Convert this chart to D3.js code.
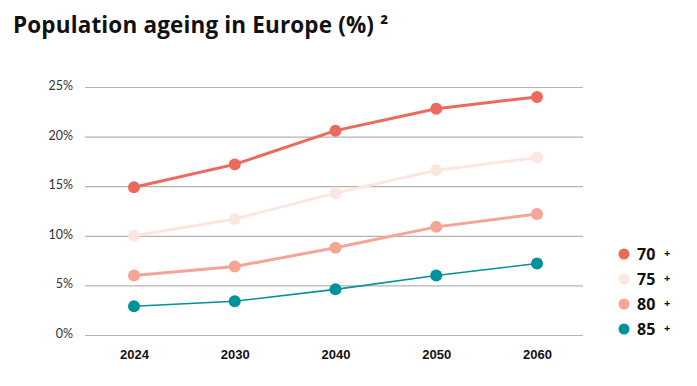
<!DOCTYPE html>
<html>
<head>
<meta charset="utf-8">
<script src="https://cdn.jsdelivr.net/npm/d3@7.9.0/dist/d3.min.js"></script>
<style>
  body { margin: 0; background: #fff; }
  svg { display: block; font-family: "Open Sans", sans-serif; }
</style>
</head>
<body>
<svg width="697" height="386"></svg>
<script>
// chart data
const years = ['2024', '2030', '2040', '2050', '2060'];
const groups = ['70 +', '75 +', '80 +', '85 +'];
const values70 = [14.9, 17.2, 20.6, 22.8, 24.0];
const values75 = [10.0, 11.7, 14.3, 16.6, 17.9];
const values80 = [6.0, 6.9, 8.8, 10.9, 12.2];
const values85 = [2.9, 3.4, 4.6, 6.0, 7.2];
const yTicks = [0, 5, 10, 15, 20, 25];

const colors = ['#ec6a5c', '#fbe6e0', '#f5a595', '#00929a'];
const widths = [3, 3, 3, 1.6];

const series = [values70, values75, values80, values85].map((vals, i) => ({
  name: groups[i],
  color: colors[i],
  width: widths[i],
  points: vals.map((v, j) => ({ year: years[j], value: v }))
}));

const svg = d3.select('svg');

// title
const title = svg.append('text')
  .attr('x', 13)
  .attr('y', 33)
  .attr('font-size', 22.5)
  .attr('font-weight', 700)
  .attr('fill', '#111')
  .attr('letter-spacing', 0.15)
  .text('Population ageing in Europe (%) ');
title.append('tspan')
  .attr('font-size', 21)
  .text('²');

const plotLeft = 85, plotRight = 583, plotTop = 87, plotBottom = 335;

const x = d3.scalePoint().domain(years).range([134, 537]);
const y = d3.scaleLinear().domain([0, 25]).range([plotBottom, plotTop]);

// grid lines + y labels
const yAxis = svg.append('g')
  .attr('transform', `translate(${plotLeft},0)`)
  .call(d3.axisLeft(y).tickValues(yTicks).tickSize(-(plotRight - plotLeft)).tickFormat(d => d + '%'));
yAxis.select('.domain').remove();
yAxis.selectAll('line').attr('stroke', '#b3b3b3').attr('stroke-width', 1.2);
yAxis.selectAll('text')
  .attr('x', -12)
  .attr('dy', '0.2em')
  .attr('font-size', 12.5)
  .attr('fill', '#333')
  .attr('font-family', 'Lato, sans-serif');

// x labels
const xAxis = svg.append('g')
  .attr('transform', `translate(0,${plotBottom})`)
  .call(d3.axisBottom(x).tickSize(0).tickPadding(15));
xAxis.select('.domain').remove();
xAxis.selectAll('text')
  .attr('font-size', 13)
  .attr('font-weight', 600)
  .attr('fill', '#111');

// lines and dots
const line = d3.line().x(d => x(d.year)).y(d => y(d.value));
const g = svg.selectAll('.series').data(series).join('g').attr('class', 'series');
g.append('path')
  .attr('d', d => line(d.points))
  .attr('fill', 'none')
  .attr('stroke', d => d.color)
  .attr('stroke-width', d => d.width);
g.selectAll('circle')
  .data(d => d.points.map(p => ({ ...p, color: d.color })))
  .join('circle')
  .attr('cx', d => x(d.year))
  .attr('cy', d => y(d.value))
  .attr('r', 6)
  .attr('fill', d => d.color);

// legend
const legend = svg.selectAll('.legend').data(series).join('g')
  .attr('class', 'legend')
  .attr('transform', (d, i) => `translate(624,${254 + i * 25})`);
legend.append('circle').attr('r', 5.5).attr('fill', d => d.color);
legend.append('text')
  .attr('x', 13)
  .attr('dy', '0.36em')
  .attr('font-size', 16)
  .attr('font-weight', 700)
  .attr('fill', '#111')
  .text(d => d.name.split(' ')[0]);
legend.append('text')
  .attr('x', 40)
  .attr('dy', '0.3em')
  .attr('font-size', 11)
  .attr('font-weight', 700)
  .attr('fill', '#111')
  .text('+');
</script>
</body>
</html>
